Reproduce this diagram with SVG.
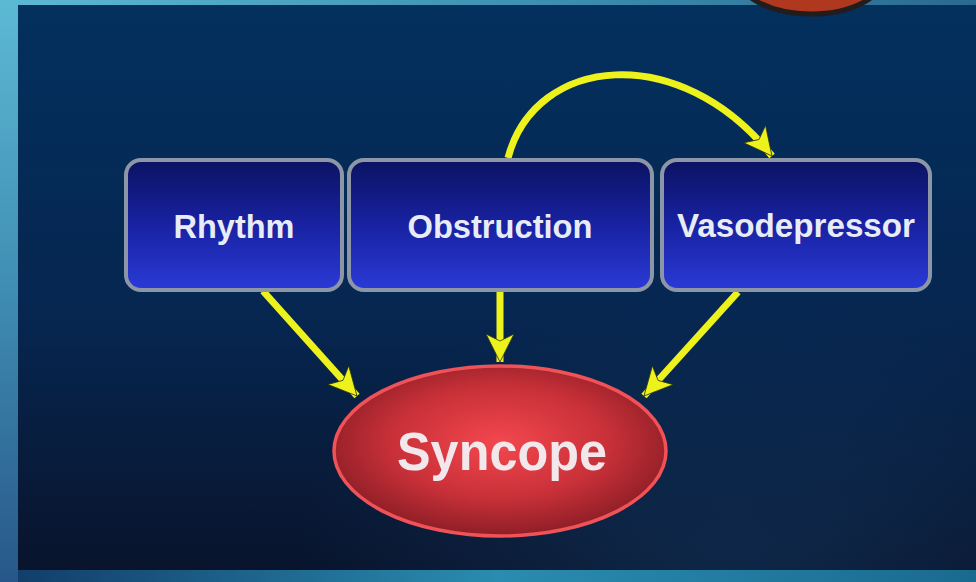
<svg xmlns="http://www.w3.org/2000/svg" width="976" height="582" viewBox="0 0 976 582">
  <defs>
    <linearGradient id="panelBg" x1="0" y1="0" x2="0" y2="1">
      <stop offset="0" stop-color="#03305e"/>
      <stop offset="0.55" stop-color="#062650"/>
      <stop offset="1" stop-color="#09132a"/>
    </linearGradient>
    <radialGradient id="panelGlow" cx="0.75" cy="0.95" r="0.45">
      <stop offset="0" stop-color="#1a4a7a" stop-opacity="0.35"/>
      <stop offset="1" stop-color="#1a4a7a" stop-opacity="0"/>
    </radialGradient>
    <linearGradient id="sideStrip" x1="0" y1="0" x2="0" y2="1">
      <stop offset="0" stop-color="#5cb9d4"/>
      <stop offset="0.5" stop-color="#3f8db2"/>
      <stop offset="1" stop-color="#27578a"/>
    </linearGradient>
    <linearGradient id="topStrip" x1="0" y1="0" x2="1" y2="0">
      <stop offset="0" stop-color="#5cb9d4"/>
      <stop offset="0.6" stop-color="#3a8cae"/>
      <stop offset="1" stop-color="#2a6a90"/>
    </linearGradient>
    <linearGradient id="bottomBand" x1="0" y1="0" x2="1" y2="0">
      <stop offset="0" stop-color="#123e6a"/>
      <stop offset="0.5" stop-color="#2a8cb0"/>
      <stop offset="1" stop-color="#1a6a90"/>
    </linearGradient>
    <linearGradient id="boxFill" x1="0" y1="0" x2="0" y2="1">
      <stop offset="0" stop-color="#0b1262"/>
      <stop offset="0.5" stop-color="#1822a2"/>
      <stop offset="1" stop-color="#2a3ad6"/>
    </linearGradient>
    <radialGradient id="ovalFill" cx="0.5" cy="0.45" r="0.55">
      <stop offset="0" stop-color="#f4474f"/>
      <stop offset="0.6" stop-color="#c83038"/>
      <stop offset="1" stop-color="#8e1e26"/>
    </radialGradient>
    <marker id="head" markerUnits="userSpaceOnUse" markerWidth="34" markerHeight="34" refX="28" refY="14" orient="auto">
      <path d="M0,0 L28,14 L0,28 L7,14 Z" fill="#eef21c" stroke="#2a3410" stroke-width="0.8"/>
    </marker>
    <style>
      .box { fill: url(#boxFill); stroke: #8c96a6; stroke-width: 4; }
      .boxText { font-family: "Liberation Sans", Arial, sans-serif; font-weight: bold; font-size: 34px; fill: #e8ecf6; text-anchor: middle; }
      .link { fill: none; stroke: #eef21c; stroke-width: 7; marker-end: url(#head); }
    </style>
  </defs>

  <!-- backdrop -->
  <rect x="0" y="0" width="976" height="582" fill="url(#panelBg)"/>
  <rect x="0" y="0" width="976" height="582" fill="url(#panelGlow)"/>
  <rect x="0" y="0" width="976" height="5" fill="url(#topStrip)"/>
  <rect x="0" y="0" width="18" height="582" fill="url(#sideStrip)"/>
  <rect x="18" y="570" width="958" height="12" fill="url(#bottomBand)"/>
  <ellipse cx="811" cy="-28" rx="76" ry="42" fill="#b0381f" stroke="#231c1c" stroke-width="5"/>

  <!-- connectors -->
  <g id="connectors">
    <path class="link" d="M508,158 C535,55 680,40 772,156"/>
    <path class="link" d="M263,291 L357,396"/>
    <path class="link" d="M500,291 L500,362"/>
    <path class="link" d="M738,292 L644,396"/>
  </g>

  <!-- nodes -->
  <g id="rhythm">
    <rect class="box" x="126" y="160" width="216" height="130" rx="15"/>
    <text class="boxText" x="234" y="238" textLength="121" lengthAdjust="spacingAndGlyphs">Rhythm</text>
  </g>
  <g id="obstruction">
    <rect class="box" x="349" y="160" width="303" height="130" rx="15"/>
    <text class="boxText" x="500" y="238" textLength="185" lengthAdjust="spacingAndGlyphs">Obstruction</text>
  </g>
  <g id="vasodepressor">
    <rect class="box" x="662" y="160" width="268" height="130" rx="15"/>
    <text class="boxText" x="796" y="237" textLength="238" lengthAdjust="spacingAndGlyphs">Vasodepressor</text>
  </g>
  <g id="syncope">
    <ellipse cx="500" cy="451" rx="166" ry="85" fill="url(#ovalFill)" stroke="#f05258" stroke-width="3.5"/>
    <text x="502" y="470" font-family="Liberation Sans, Arial, sans-serif" font-weight="bold" font-size="53" fill="#f2e8ec" text-anchor="middle" textLength="210" lengthAdjust="spacingAndGlyphs">Syncope</text>
  </g>
</svg>
